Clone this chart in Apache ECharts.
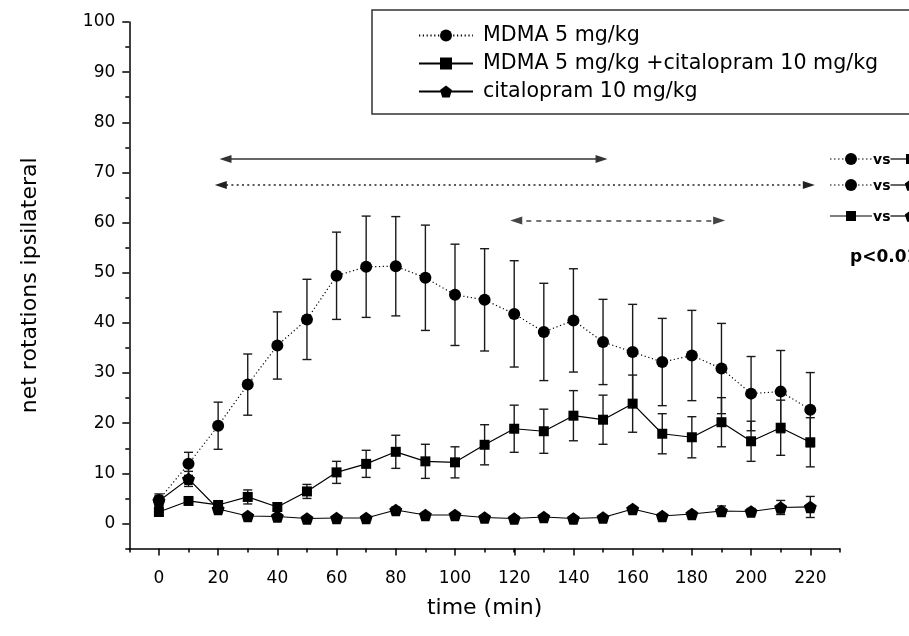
<!DOCTYPE html>
<html>
<head>
<meta charset="utf-8">
<script src="https://cdn.jsdelivr.net/npm/echarts@6/dist/echarts.min.js"></script>
<style>
  html, body { margin: 0; padding: 0; background: #fff; }
  #chart { width: 909px; height: 636px; }
</style>
</head>
<body>
<div id="chart"></div>
<script>
// time points (min)
var times = [0, 10, 20, 30, 40, 50, 60, 70, 80, 90, 100, 110, 120, 130, 140, 150, 160, 170, 180, 190, 200, 210, 220];

// MDMA 5 mg/kg
var mdma = [4.7, 11.9, 19.5, 27.7, 35.5, 40.7, 49.4, 51.2, 51.3, 49.0, 45.6, 44.6, 41.8, 38.2, 40.5, 36.2, 34.2, 32.2, 33.5, 30.9, 25.9, 26.3, 22.7];
var mdmaErr = [1.2, 2.3, 4.7, 6.1, 6.7, 8.0, 8.7, 10.1, 9.9, 10.5, 10.1, 10.2, 10.6, 9.7, 10.3, 8.5, 9.5, 8.7, 9.0, 9.0, 7.4, 8.2, 7.4];

// MDMA 5 mg/kg + citalopram 10 mg/kg
var mdmaCit = [2.3, 4.5, 3.7, 5.3, 3.3, 6.4, 10.2, 11.9, 14.3, 12.4, 12.2, 15.7, 18.9, 18.4, 21.5, 20.7, 23.9, 17.9, 17.2, 20.2, 16.4, 19.1, 16.2];
var mdmaCitErr = [0.6, 0.6, 0.7, 1.4, 0.6, 1.4, 2.2, 2.7, 3.3, 3.4, 3.1, 4.0, 4.7, 4.4, 5.0, 4.9, 5.7, 4.0, 4.1, 4.9, 4.0, 5.5, 4.9];

// citalopram 10 mg/kg
var cit = [4.5, 8.9, 2.9, 1.5, 1.4, 1.0, 1.1, 1.1, 2.7, 1.7, 1.7, 1.2, 1.0, 1.3, 1.0, 1.2, 2.9, 1.5, 1.9, 2.5, 2.4, 3.2, 3.3];
var citErr = [1.0, 1.5, 0.6, 0.4, 0.4, 0.4, 0.4, 0.4, 0.6, 0.5, 0.5, 0.4, 0.3, 0.4, 0.3, 0.4, 0.5, 0.4, 0.5, 1.0, 0.6, 1.4, 2.1];

var seriesNames = ['MDMA 5 mg/kg', 'MDMA 5 mg/kg +citalopram 10 mg/kg', 'citalopram 10 mg/kg'];

// significance spans: [from, to, level] in axis units
var spanSolid = [22.5, 149.5, 72.7];
var spanDotted = [20.9, 219.5, 67.5];
var spanDashed = [120.7, 189.2, 60.4];

var FONT = 'DejaVu Sans';
var PENTA = 'path://M0,-1 L0.951,-0.309 L0.588,0.809 L-0.588,0.809 L-0.951,-0.309 Z';

function pairs(ys) {
  return times.map(function (t, i) { return [t, ys[i]]; });
}
function errData(ys, es) {
  return times.map(function (t, i) { return [t, ys[i] - es[i], ys[i] + es[i]]; });
}
function errSeries(ys, es) {
  return {
    type: 'custom',
    xAxisIndex: 0,
    yAxisIndex: 0,
    z: 2,
    silent: true,
    data: errData(ys, es),
    renderItem: function (params, api) {
      var lo = api.coord([api.value(0), api.value(1)]);
      var hi = api.coord([api.value(0), api.value(2)]);
      var w = 4.5;
      var st = {stroke: '#1a1a1a', lineWidth: 1.4};
      return {
        type: 'group',
        children: [
          {type: 'line', shape: {x1: lo[0], y1: lo[1], x2: hi[0], y2: hi[1]}, style: st},
          {type: 'line', shape: {x1: lo[0] - w, y1: lo[1], x2: lo[0] + w, y2: lo[1]}, style: st},
          {type: 'line', shape: {x1: hi[0] - w, y1: hi[1], x2: hi[0] + w, y2: hi[1]}, style: st}
        ]
      };
    }
  };
}
function span(s, style) {
  return [{coord: [s[0], s[2]], lineStyle: style}, {coord: [s[1], s[2]]}];
}

// little "x vs y" keys at the right edge
function keyRow(y, sym1, dash1, sym2) {
  var els = [];
  var dot = [1.5, 2.5];
  els.push({type: 'line', shape: {x1: 830, y1: y, x2: 872, y2: y},
    style: {stroke: '#000', lineWidth: 1.2, lineDash: dash1 ? dot : null}});
  els.push({type: 'line', shape: {x1: 890, y1: y, x2: 912, y2: y},
    style: {stroke: '#000', lineWidth: 1.2}});
  els.push(symbolEl(sym1, 851, y));
  els.push(symbolEl(sym2, 911, y));
  els.push({type: 'text', x: 873, y: y + 1,
    style: {text: 'vs', fontFamily: FONT, fontWeight: 'bold', fontSize: 14, fill: '#000',
      verticalAlign: 'middle', backgroundColor: '#fff'}});
  return els;
}
function symbolEl(kind, x, y) {
  if (kind === 'circle') {
    return {type: 'circle', shape: {cx: x, cy: y, r: 6}, style: {fill: '#000'}};
  }
  if (kind === 'rect') {
    return {type: 'rect', shape: {x: x - 5, y: y - 5, width: 10, height: 10}, style: {fill: '#000'}};
  }
  var r = 6.5, pts = [];
  for (var k = 0; k < 5; k++) {
    var a = -Math.PI / 2 + k * 2 * Math.PI / 5;
    pts.push([x + r * Math.cos(a), y + 0.5 + r * Math.sin(a)]);
  }
  return {type: 'polygon', shape: {points: pts}, style: {fill: '#000'}};
}

var graphics = [].concat(
  keyRow(159, 'circle', true, 'rect'),
  keyRow(185, 'circle', true, 'penta'),
  keyRow(216, 'rect', false, 'penta'),
  [{type: 'text', x: 850, y: 258,
    style: {text: 'p<0.01', fontFamily: FONT, fontWeight: 'bold', fontSize: 17, fill: '#000',
      verticalAlign: 'middle'}}]
);

var chart = echarts.init(document.getElementById('chart'));

var tickStyle = {color: '#000', width: 1.5};
var hidden = {show: false};

var option = {
  animation: false,
  backgroundColor: '#fff',
  textStyle: {fontFamily: FONT},
  // grid 0: data + minor ticks, grid 1: major x ticks/labels, grid 2: major y ticks/labels
  grid: [
    {left: 129.3, top: 22, width: 710.6, height: 526.6, outerBoundsMode: 'none'},
    {left: 159, top: 22, width: 651.4, height: 526.6, outerBoundsMode: 'none'},
    {left: 129.3, top: 22, width: 710.6, height: 501.5, outerBoundsMode: 'none'}
  ],
  legend: {
    orient: 'vertical',
    left: 372,
    top: 10,
    padding: [15, 60, 12, 46],
    itemWidth: 54,
    itemHeight: 15,
    itemGap: 7,
    borderColor: '#333',
    borderWidth: 1.5,
    selectedMode: false,
    textStyle: {fontFamily: FONT, fontSize: 20.6, color: '#000', padding: [0, 0, 0, 5]},
    data: seriesNames
  },
  xAxis: [
    {
      type: 'value', gridIndex: 0, min: -10, max: 230, interval: 10,
      splitLine: hidden,
      axisLine: {show: true, onZero: false, lineStyle: tickStyle},
      axisTick: {show: true, length: 4, lineStyle: tickStyle},
      axisLabel: hidden,
      name: 'time (min)', nameLocation: 'middle', nameGap: 49,
      nameTextStyle: {fontFamily: FONT, fontSize: 22, color: '#000'}
    },
    {
      type: 'value', gridIndex: 1, min: 0, max: 220, interval: 20,
      splitLine: hidden,
      axisLine: {show: false, onZero: false},
      axisTick: {show: true, length: 7, lineStyle: tickStyle},
      axisLabel: {fontFamily: FONT, fontSize: 17, color: '#000', margin: 21}
    },
    {
      type: 'value', gridIndex: 2, min: -10, max: 230, show: false
    }
  ],
  yAxis: [
    {
      type: 'value', gridIndex: 0, min: -5, max: 100, interval: 5,
      splitLine: hidden,
      axisLine: {show: true, onZero: false, lineStyle: tickStyle},
      axisTick: {show: true, length: 4, lineStyle: tickStyle},
      axisLabel: hidden,
      name: 'net rotations ipsilateral', nameLocation: 'middle', nameGap: 88,
      nameTextStyle: {fontFamily: FONT, fontSize: 22, color: '#000'}
    },
    {
      type: 'value', gridIndex: 1, min: -5, max: 100, show: false
    },
    {
      type: 'value', gridIndex: 2, min: 0, max: 100, interval: 10,
      splitLine: hidden,
      axisLine: {show: false, onZero: false},
      axisTick: {show: true, length: 7, lineStyle: tickStyle},
      axisLabel: {fontFamily: FONT, fontSize: 17, color: '#000', margin: 14}
    }
  ],
  graphic: graphics,
  series: [
    errSeries(mdma, mdmaErr),
    errSeries(mdmaCit, mdmaCitErr),
    errSeries(cit, citErr),
    {
      name: seriesNames[0], type: 'line', xAxisIndex: 0, yAxisIndex: 0, z: 5,
      data: pairs(mdma),
      symbol: 'circle', symbolSize: 12,
      itemStyle: {color: '#000'},
      lineStyle: {color: '#000', width: 1.2, type: [1.2, 2.6]},
      markLine: {
        silent: true,
        symbol: ['triangle', 'triangle'],
        symbolSize: [8, 12],
        label: {show: false},
        lineStyle: {color: '#333', width: 1.5},
        data: [
          span(spanSolid, {type: 'solid', color: '#333', width: 1.5}),
          span(spanDotted, {type: [2, 3.3], color: '#222', width: 1.5}),
          span(spanDashed, {type: [5, 5], color: '#444', width: 1.5})
        ]
      }
    },
    {
      name: seriesNames[1], type: 'line', xAxisIndex: 0, yAxisIndex: 0, z: 5,
      data: pairs(mdmaCit),
      symbol: 'rect', symbolSize: 10,
      itemStyle: {color: '#000'},
      lineStyle: {color: '#000', width: 1.2}
    },
    {
      name: seriesNames[2], type: 'line', xAxisIndex: 0, yAxisIndex: 0, z: 5,
      data: pairs(cit),
      symbol: PENTA, symbolSize: [13, 12.4],
      itemStyle: {color: '#000'},
      lineStyle: {color: '#000', width: 1.2}
    }
  ]
};

chart.setOption(option);
</script>
</body>
</html>
